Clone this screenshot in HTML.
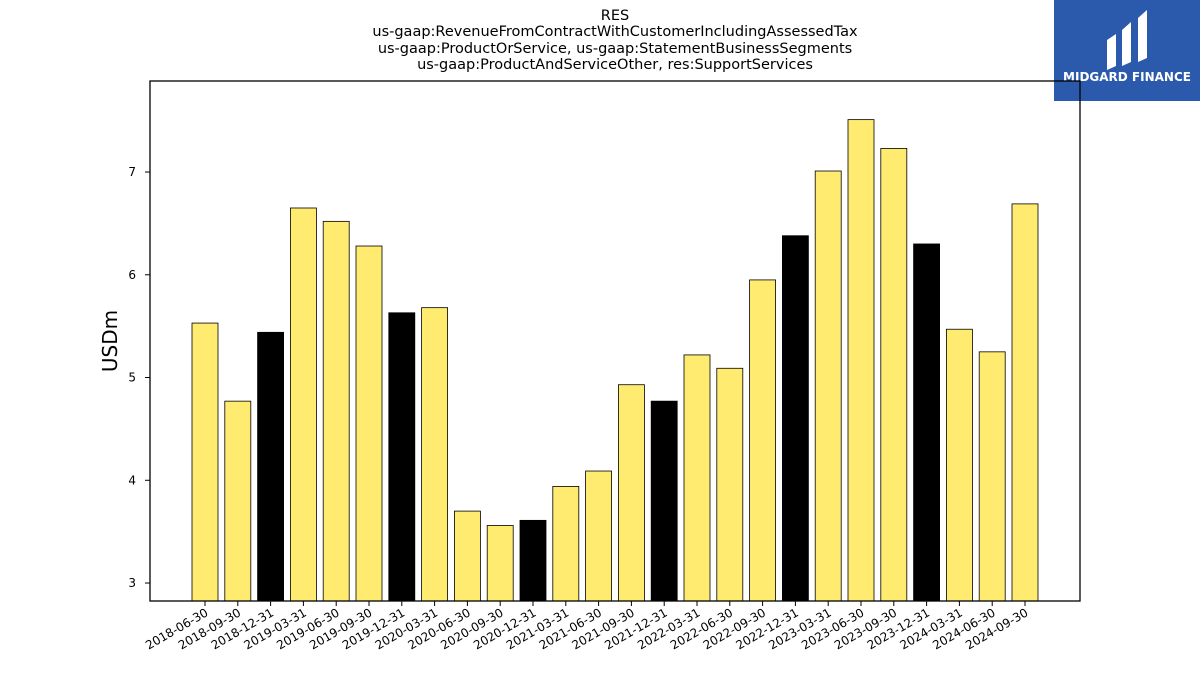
<!DOCTYPE html>
<html><head><meta charset="utf-8"><style>body{margin:0;background:#fff}svg{display:block;font-family:"DejaVu Sans","Liberation Sans",sans-serif}</style></head>
<body>
<svg id="c" width="1200" height="675">
<g font-size="14.5" text-anchor="middle" fill="#000">
<text x="615" y="20">RES</text>
<text x="615" y="36">us-gaap:RevenueFromContractWithCustomerIncludingAssessedTax</text>
<text x="615" y="53">us-gaap:ProductOrService, us-gaap:StatementBusinessSegments</text>
<text x="615" y="69">us-gaap:ProductAndServiceOther, res:SupportServices</text>
</g>
<g>
<rect x="1054" y="0" width="146" height="101" fill="#2b5aad"/>
<path d="M1107 70 L1107 40 L1116 34 L1116 66 Z M1122 66 L1122 30 L1131 22 L1131 62 Z M1138 62 L1138 18 L1147 10 L1147 58 Z" fill="#fff"/>
<text x="1127" y="81" font-size="12" font-weight="bold" fill="#fff" text-anchor="middle">MIDGARD FINANCE</text>
</g>
<text x="117" y="341" font-size="20" text-anchor="middle" transform="rotate(-90 117 341)">USDm</text>
<g id="bars"></g>
<g id="axes"></g>
<rect x="150" y="81" width="930" height="520" fill="none" stroke="#000" stroke-width="1.3"/>
</svg>
<script>
const categories=["2018-06-30","2018-09-30","2018-12-31","2019-03-31","2019-06-30","2019-09-30","2019-12-31","2020-03-31","2020-06-30","2020-09-30","2020-12-31","2021-03-31","2021-06-30","2021-09-30","2021-12-31","2022-03-31","2022-06-30","2022-09-30","2022-12-31","2023-03-31","2023-06-30","2023-09-30","2023-12-31","2024-03-31","2024-06-30","2024-09-30"];
const values=[5.53,4.77,5.44,6.65,6.52,6.28,5.63,5.68,3.70,3.56,3.61,3.94,4.09,4.93,4.77,5.22,5.09,5.95,6.38,7.01,7.51,7.23,6.30,5.47,5.25,6.69];
const yTicks=[3,4,5,6,7];
const NS="http://www.w3.org/2000/svg";
const yMin=2.825,yMax=7.886,yTop=81,yBot=601;
const yS=v=>yBot-(v-yMin)/(yMax-yMin)*(yBot-yTop);
const xS=i=>205+i*32.8;
const bw=26;
const bars=document.getElementById('bars'),axes=document.getElementById('axes');
function mk(t,a){const e=document.createElementNS(NS,t);for(const k in a)e.setAttribute(k,a[k]);return e;}
values.forEach((v,i)=>{
 const r=mk('rect',{x:xS(i)-bw/2,y:yS(v),width:bw,height:yBot-yS(v),fill:categories[i].endsWith('12-31')?'#000':'#ffeb70',stroke:'#000','stroke-width':0.8});
 
 
 bars.appendChild(r);
 const t=mk('line',{x1:xS(i),x2:xS(i),y1:yBot,y2:yBot+5,stroke:'#000'});
 
 
 axes.appendChild(t);
 const l=mk('text',{x:xS(i)+4,y:yBot+14,'font-size':12,'text-anchor':'end',transform:`rotate(-30 ${xS(i)+4} ${yBot+14})`});
 l.textContent=categories[i];
 
 
 axes.appendChild(l);
});
yTicks.forEach(v=>{
 const t=mk('line',{x1:145,x2:150,y1:yS(v),y2:yS(v),stroke:'#000'});
 
 
 axes.appendChild(t);
 const l=mk('text',{x:136,y:yS(v)+4,'font-size':12,'text-anchor':'end'});
 l.textContent=v;
 
 
 axes.appendChild(l);
});
</script>
</body></html>
